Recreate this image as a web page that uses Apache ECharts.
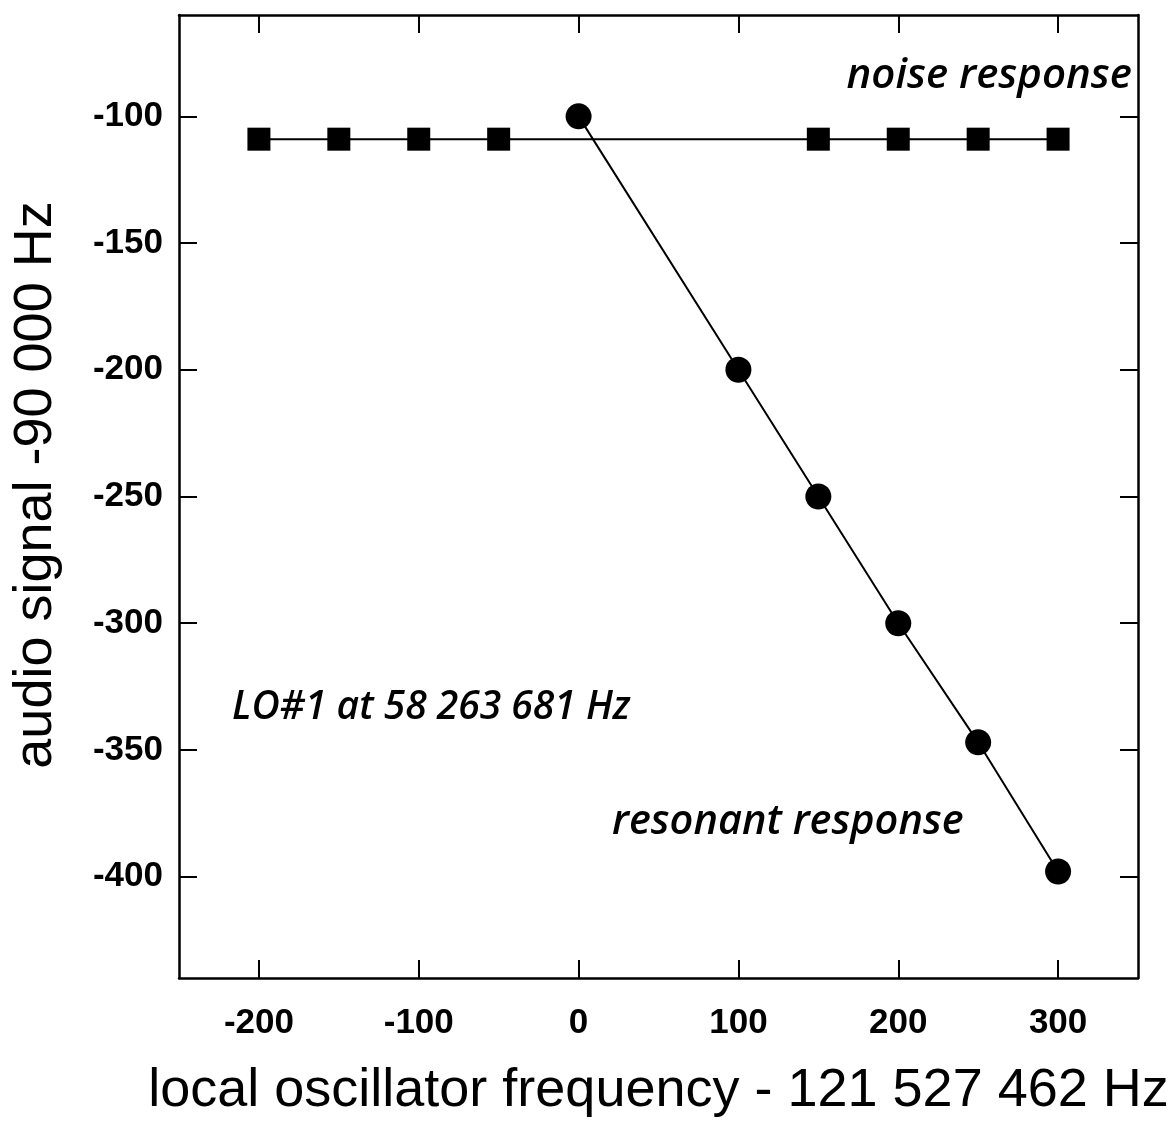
<!DOCTYPE html>
<html>
<head>
<meta charset="utf-8">
<script src="https://cdn.jsdelivr.net/npm/echarts@6/dist/echarts.min.js"></script>
<style>
  html, body { margin: 0; padding: 0; background: #fff; }
  #chart { width: 1176px; height: 1125px; }
</style>
</head>
<body>
<div id="chart"></div>
<script>
// Local oscillator offset (Hz) vs. audio signal offset (Hz)
const noiseX = [-200, -150, -100, -50, 150, 200, 250, 300];
const noiseY = [-109, -109, -109, -109, -109, -109, -109, -109];
const resonantX = [0, 100, 150, 200, 250, 300];
const resonantY = [-100, -200, -250, -300, -347, -398];
const xTicks = [-200, -100, 0, 100, 200, 300];
const yTicks = [-100, -150, -200, -250, -300, -350, -400];

const xTitle = 'local oscillator frequency - 121 527 462 Hz';
const yTitle = 'audio signal -90 000 Hz';

const pair = (xs, ys) => xs.map((x, i) => [x, ys[i]]);

const chart = echarts.init(document.getElementById('chart'), null, { renderer: 'canvas' });

const axisLine = { show: true, onZero: false, lineStyle: { color: '#000', width: 2.5 } };
const tickStyle = { color: '#000', width: 2 };
const labelFont = { fontFamily: 'Liberation Sans, Arial, sans-serif', fontSize: 35, fontWeight: 'bold', color: '#000' };
const titleFont = { fontFamily: 'Liberation Sans, Arial, sans-serif', fontSize: 54, color: '#000' };
const noteFont = { fontFamily: 'Open Sans, sans-serif', fontStyle: 'italic', fontWeight: 600, fill: '#000' };

chart.setOption({
  animation: false,
  backgroundColor: '#fff',
  grid: { left: 179, right: 38, top: 15, bottom: 147, outerBoundsMode: 'none', containLabel: false },
  xAxis: [
    {
      type: 'value', min: -250, max: 350, position: 'bottom',
      axisLine,
      axisTick: { show: true, inside: true, length: 18, lineStyle: tickStyle, customValues: xTicks },
      axisLabel: Object.assign({ margin: 28, customValues: xTicks }, labelFont),
      splitLine: { show: false },
      name: xTitle, nameLocation: 'middle', nameGap: 86,
      nameTextStyle: titleFont
    },
    {
      type: 'value', min: -250, max: 350, position: 'top',
      axisLine,
      axisTick: { show: true, inside: true, length: 18, lineStyle: tickStyle, customValues: xTicks },
      axisLabel: { show: false },
      splitLine: { show: false }
    }
  ],
  yAxis: [
    {
      type: 'value', min: -440, max: -60, position: 'left',
      axisLine,
      axisTick: { show: true, inside: true, length: 18, lineStyle: tickStyle, customValues: yTicks },
      axisLabel: Object.assign({ margin: 16, customValues: yTicks }, labelFont),
      splitLine: { show: false }
    },
    {
      type: 'value', min: -440, max: -60, position: 'right',
      axisLine,
      axisTick: { show: true, inside: true, length: 18, lineStyle: tickStyle, customValues: yTicks },
      axisLabel: { show: false },
      splitLine: { show: false }
    }
  ],
  series: [
    {
      name: 'noise response', type: 'line',
      data: pair(noiseX, noiseY),
      symbol: 'rect', symbolSize: 23,
      lineStyle: { color: '#000', width: 2 },
      itemStyle: { color: '#000' },
      z: 3
    },
    {
      name: 'resonant response', type: 'line',
      data: pair(resonantX, resonantY),
      symbol: 'circle', symbolSize: 26,
      lineStyle: { color: '#000', width: 2 },
      itemStyle: { color: '#000' },
      z: 4
    }
  ],
  graphic: [
    {
      // vertical axis title, drawn slightly above the plot centre
      type: 'text', x: 36, y: 485, rotation: Math.PI / 2,
      style: Object.assign({ text: yTitle, align: 'center', verticalAlign: 'middle' },
        { fontFamily: titleFont.fontFamily, fontSize: titleFont.fontSize, fill: '#000' })
    },
    {
      type: 'text', right: 44, top: 55,
      style: Object.assign({ text: 'noise response', fontSize: 42 }, noteFont)
    },
    {
      type: 'text', left: 232, top: 688,
      style: Object.assign({ text: 'LO#1 at 58 263 681 Hz', fontSize: 39 }, noteFont)
    },
    {
      type: 'text', left: 612, top: 802,
      style: Object.assign({ text: 'resonant response', fontSize: 41.5 }, noteFont)
    }
  ]
});
</script>
</body>
</html>
